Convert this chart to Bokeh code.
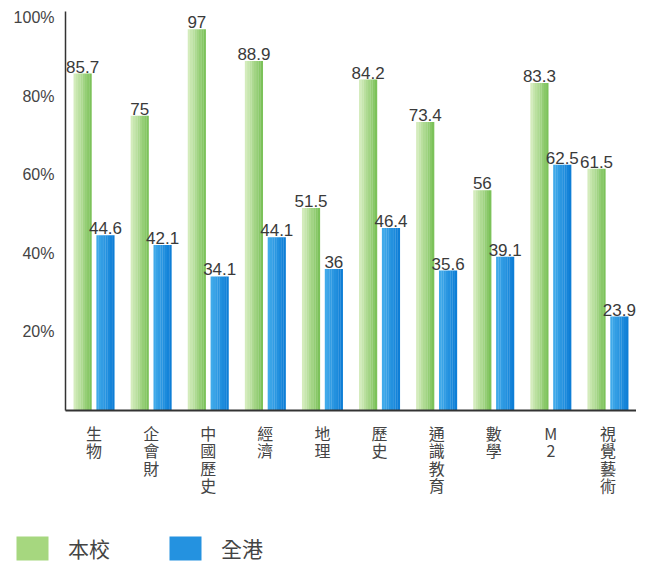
import numpy as np
from bokeh.plotting import figure
from bokeh.models import Range1d, FixedTicker, ColumnDataSource, Legend, LegendItem
from bokeh.core.properties import value
from bokeh.embed import file_html
from bokeh.resources import INLINE

subjects = ["生物", "企會財", "中國歷史", "經濟", "地理", "歷史", "通識教育", "數學", "M2", "視覺藝術"]
school = [85.7, 75, 97, 88.9, 51.5, 84.2, 73.4, 56, 83.3, 61.5]
hk = [44.6, 42.1, 34.1, 44.1, 36, 46.4, 35.6, 39.1, 62.5, 23.9]
series_names = ["本校", "全港"]
y_ticks = [20, 40, 60, 80, 100]
y_tick_labels = ["20%", "40%", "60%", "80%", "100%"]

# styling
green_light, green_dark = (212, 236, 188), (124, 194, 90)
blue_light, blue_dark = (64, 170, 234), (14, 126, 214)
green_mid, blue_mid = "#a6d77f", "#2492e0"
BAR_W = 0.315
OFFSET = 0.20
STRIPS = 8

n = len(subjects)
centers = np.arange(n) + 0.5

p = figure(width=636, height=533, output_backend="svg", toolbar_location=None,
           x_range=Range1d(0, 10.0), y_range=Range1d(0, 101.5),
           min_border_left=65, min_border_top=11, min_border_right=0,
           min_border_bottom=123)


def mix(c1, c2, t):
    return "#%02x%02x%02x" % tuple(int(round(a + (b - a) * t)) for a, b in zip(c1, c2))


def draw_series(vals, off, c_light, c_dark):
    sw = BAR_W / STRIPS
    for j in range(STRIPS):
        t = j / (STRIPS - 1)
        col = mix(c_light, c_dark, t)
        xs = centers + off - BAR_W / 2 + (j + 0.5) * sw
        src = ColumnDataSource(dict(x=xs, top=vals))
        p.vbar(x="x", top="top", width=sw * 1.08, bottom=0, source=src,
               fill_color=col, line_color=None)


draw_series(school, -OFFSET, green_light, green_dark)
draw_series(hk, OFFSET, blue_light, blue_dark)

# value labels
for vals, off in ((school, -OFFSET), (hk, OFFSET)):
    src = ColumnDataSource(dict(x=centers + off, y=vals, t=[f"{v:g}" for v in vals]))
    p.text(x="x", y="y", text="t", source=src, text_align="center",
           text_baseline="bottom", y_offset=-1, text_font_size="17px",
           text_color="#3a3a3a", text_font=value("Liberation Sans"))

# axes
p.xaxis.ticker = FixedTicker(ticks=list(centers))
p.xaxis.major_label_overrides = {float(c): "\n".join(s) for c, s in zip(centers, subjects)}
p.xaxis.axis_line_color = "#333333"
p.xaxis.axis_line_width = 2
p.xaxis.major_tick_line_color = None
p.xaxis.major_tick_out = 0
p.xaxis.major_tick_in = 0
p.xaxis.minor_tick_line_color = None
p.xaxis.major_label_text_font_size = "16px"
p.xaxis.major_label_text_font = "Noto Sans CJK TC"
p.xaxis.major_label_text_color = "#444444"
p.xaxis.major_label_text_line_height = 0.73
p.xaxis.major_label_standoff = 10

p.yaxis.ticker = FixedTicker(ticks=y_ticks)
p.yaxis.major_label_overrides = {t: l for t, l in zip(y_ticks, y_tick_labels)}
p.yaxis.axis_line_color = "#333333"
p.yaxis.axis_line_width = 1.5
p.yaxis.major_tick_line_color = None
p.yaxis.major_tick_out = 0
p.yaxis.major_tick_in = 0
p.yaxis.minor_tick_line_color = None
p.yaxis.major_label_text_font_size = "16px"
p.yaxis.major_label_text_font = "Liberation Sans"
p.yaxis.major_label_text_color = "#444444"
p.yaxis.major_label_standoff = 11

p.xgrid.grid_line_color = None
p.ygrid.grid_line_color = None
p.outline_line_color = None

# legend strip (separate root so its frame is not aligned with the chart)
lf = figure(width=636, height=30, output_backend="svg", toolbar_location=None,
            x_range=Range1d(0, 1), y_range=Range1d(0, 1),
            x_axis_location=None, y_axis_location=None,
            min_border_left=0, min_border_right=0, min_border_top=0, min_border_bottom=0)
lf.xgrid.grid_line_color = None
lf.ygrid.grid_line_color = None
lf.outline_line_color = None
swatch_src = ColumnDataSource(dict(x=[-10.0], top=[0.0]))
r_g = lf.vbar(x="x", top="top", width=0.1, source=swatch_src, fill_color=green_mid, line_color=None)
r_b = lf.vbar(x="x", top="top", width=0.1, source=swatch_src, fill_color=blue_mid, line_color=None)
legend = Legend(items=[LegendItem(label=series_names[0], renderers=[r_g]),
                       LegendItem(label=series_names[1], renderers=[r_b])],
                location=(12, 0), orientation="horizontal",
                glyph_width=40, glyph_height=30, label_standoff=16, spacing=55,
                padding=0, margin=0, border_line_color=None, background_fill_alpha=0,
                label_text_font_size="21px", label_text_color="#444444",
                label_text_font="Noto Sans CJK TC", label_height=30)
lf.add_layout(legend)

open("out.html", "w").write(file_html([p, lf], INLINE))
